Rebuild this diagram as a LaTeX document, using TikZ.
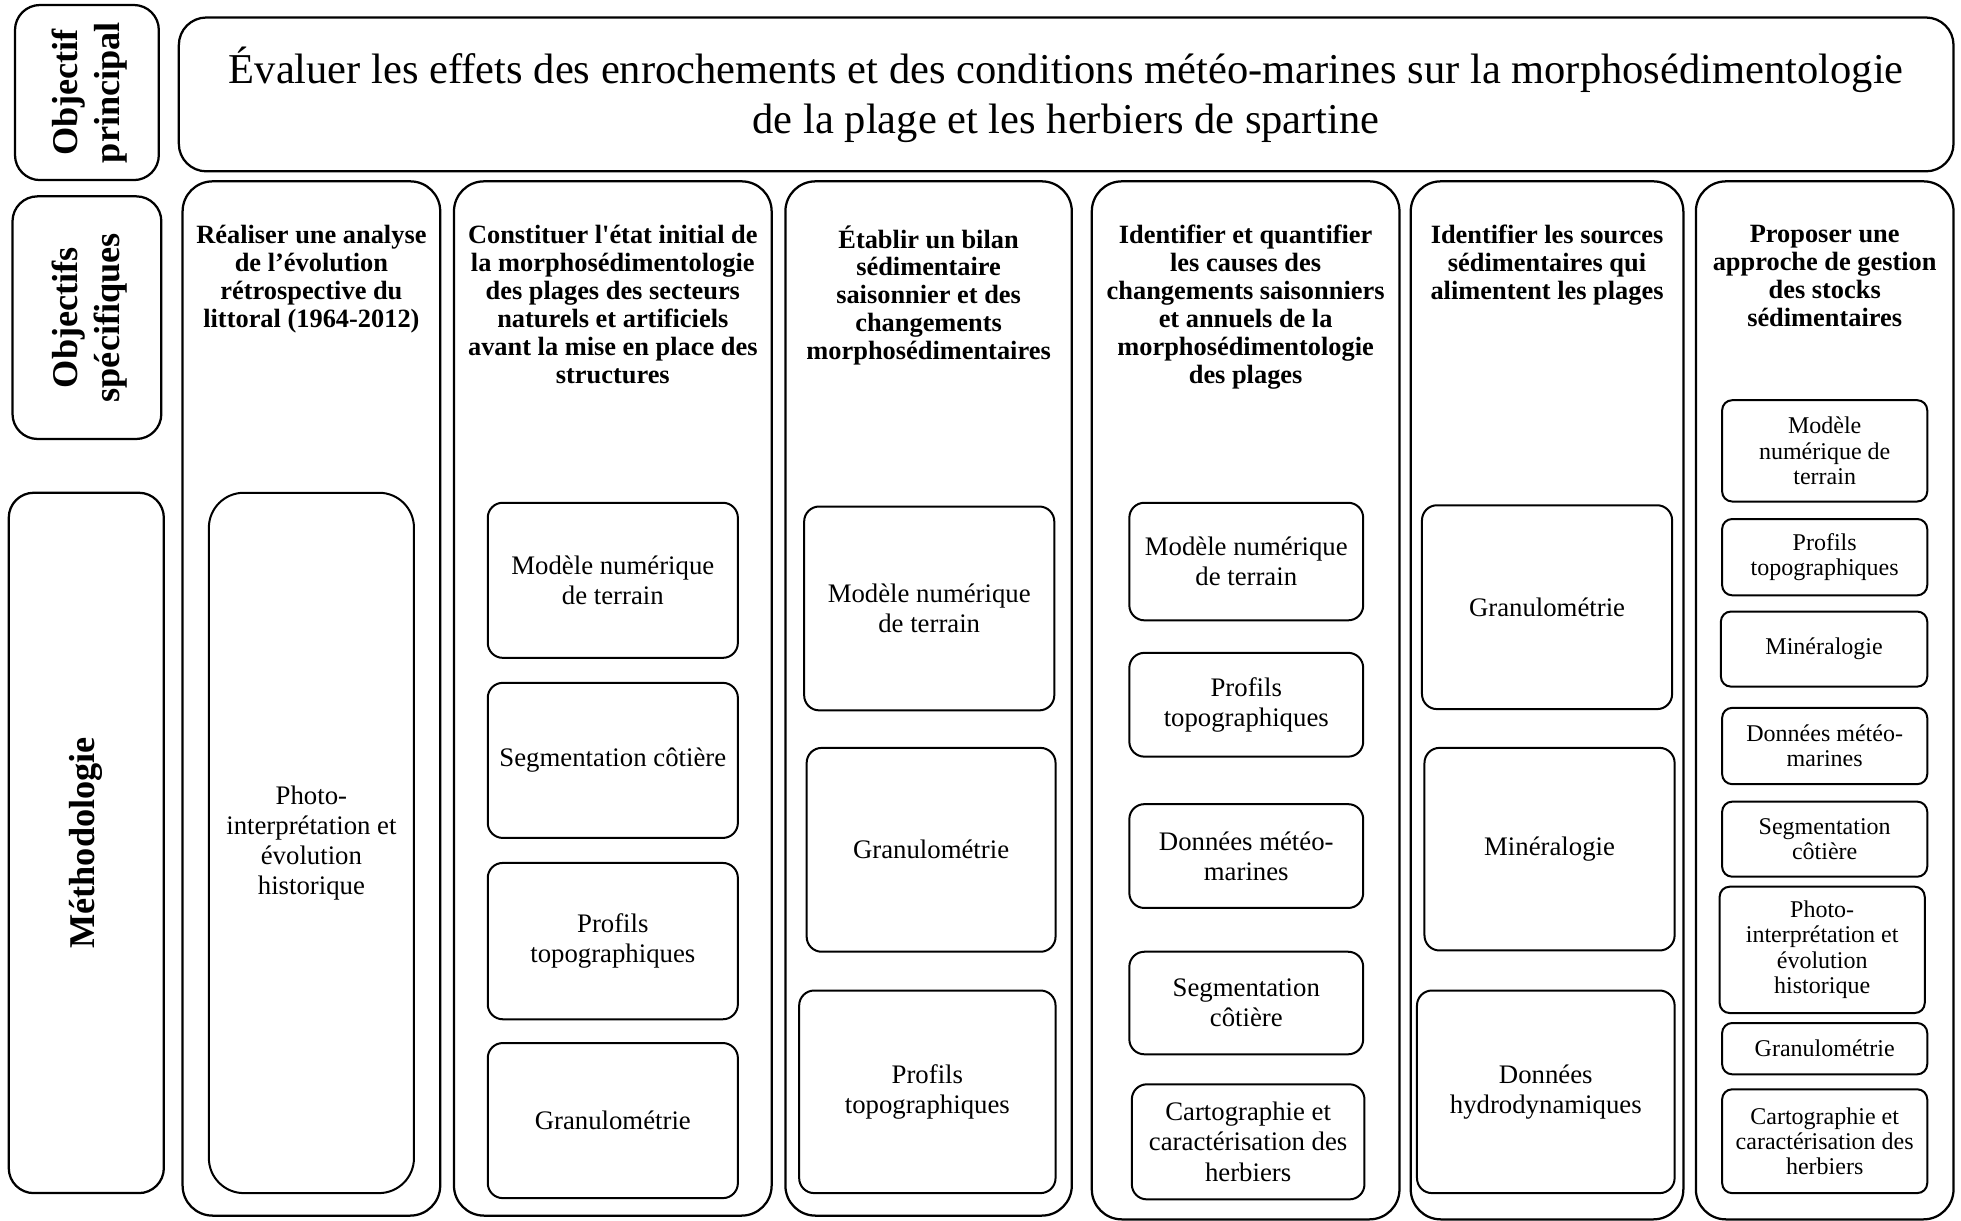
\documentclass[tikz,border=0pt]{standalone}
\usepackage{fontspec}
\setmainfont{Liberation Serif}[Ligatures=TeXOff]
\newcommand{\titfont}{\fontsize{34}{40}\selectfont}
\newcommand{\hdfont}{\fontsize{21.1}{22.3}\selectfont\bfseries}
\newcommand{\infont}{\fontsize{21.4}{24}\selectfont}
\newcommand{\smfont}{\fontsize{19.2}{20.3}\selectfont}
\newcommand{\labfont}{\fontsize{29}{34}\selectfont\bfseries}
\newcommand{\bx}[7]{\node[#6, minimum width={#4-#2}, minimum height={#5-#3}] (#1) at ({(#2+#4)/2},{(#3+#5)/2}) {#7};}
\tikzset{
  frame/.style={draw, line width=1.8pt, rounded corners=24pt, inner sep=0pt},
  labbox/.style={draw, line width=1.8pt, rounded corners=20pt, inner sep=0pt},
  labtxt/.style={rotate=90, font=\labfont, align=center, inner sep=0pt},
  hdr/.style={font=\hdfont, align=center, inner sep=0pt, anchor=north},
  inbox/.style={draw, line width=1.6pt, rounded corners=12pt, inner sep=0pt, align=center, font=\infont},
  smbox/.style={inbox, rounded corners=8pt, font=\smfont},
}
\begin{document}
\begin{tikzpicture}[x=1pt,y=-1pt]
\useasboundingbox (0,0) rectangle (1568,976);
% left labels
\bx{lp}{12}{4}{127}{144}{labbox}{}
\node[labtxt] (lpt) at ([xshift=2pt]lp.center) {Objectif\\principal};
\bx{ls}{10}{157}{129}{351}{labbox}{}
\node[labtxt] (lst) at ([xshift=2pt]ls.center) {Objectifs\\spécifiques};
\bx{lm}{7}{394}{131}{954}{labbox}{}
\node[labtxt] (lmt) at (lm.center) {Méthodologie};
% main objective
\bx{main}{143}{14}{1562}{137}{frame, rounded corners=22pt, font=\titfont, align=center}{Évaluer les effets des enrochements et des conditions météo-marines sur la morphosédimentologie\\de la plage et les herbiers de spartine}
% columns
\bx{c1}{146}{145}{352}{972}{frame}{}
\bx{c2}{363}{145}{617}{972}{frame}{}
\bx{c3}{628}{145}{857}{972}{frame}{}
\bx{c4}{873}{145}{1119}{975}{frame}{}
\bx{c5}{1128}{145}{1346}{975}{frame}{}
\bx{c6}{1356}{145}{1562}{975}{frame}{}
% headers
\node[hdr] (h1) at (249,180) {Réaliser une analyse\\de l’évolution\\rétrospective du\\littoral (1964-2012)};
\node[hdr] (h2) at (490,180) {Constituer l'état initial de\\la morphosédimentologie\\des plages des secteurs\\naturels et artificiels\\avant la mise en place des\\structures};
\node[hdr] (h3) at (742.5,180) {Établir un bilan\\sédimentaire\\saisonnier et des\\changements\\morphosédimentaires};
\node[hdr] (h4) at (996,180) {Identifier et quantifier\\les causes des\\changements saisonniers\\et annuels de la\\morphosédimentologie\\des plages};
\node[hdr] (h5) at (1237,180) {Identifier les sources\\sédimentaires qui\\alimentent les plages};
\node[hdr] (h6) at (1459,180) {Proposer une\\approche de gestion\\des stocks\\sédimentaires};
% column 1
\bx{a1}{167}{394}{331}{954}{inbox, rounded corners=28pt}{Photo-\\interprétation et\\évolution\\historique}
% column 2
\bx{b1}{390}{402}{590}{526}{inbox}{Modèle numérique\\de terrain}
\bx{b2}{390}{546}{590}{670}{inbox}{Segmentation côtière}
\bx{b3}{390}{690}{590}{815}{inbox}{Profils\\topographiques}
\bx{b4}{390}{834}{590}{958}{inbox}{Granulométrie}
% column 3
\bx{d1}{643}{405}{843}{568}{inbox}{Modèle numérique\\de terrain}
\bx{d2}{645}{598}{844}{761}{inbox}{Granulométrie}
\bx{d3}{639}{792}{844}{954}{inbox}{Profils\\topographiques}
% column 4
\bx{e1}{903}{402}{1090}{496}{inbox}{Modèle numérique\\de terrain}
\bx{e2}{903}{522}{1090}{605}{inbox}{Profils\\topographiques}
\bx{e3}{903}{643}{1090}{726}{inbox}{Données météo-\\marines}
\bx{e4}{903}{761}{1090}{843}{inbox}{Segmentation\\côtière}
\bx{e5}{905}{867}{1091}{959}{inbox}{Cartographie et\\caractérisation des\\herbiers}
% column 5
\bx{f1}{1137}{404}{1337}{567}{inbox}{Granulométrie}
\bx{f2}{1139}{598}{1339}{760}{inbox}{Minéralogie}
\bx{f3}{1133}{792}{1339}{954}{inbox}{Données\\hydrodynamiques}
% column 6
\bx{g1}{1377}{320}{1541}{401}{smbox}{Modèle\\numérique de\\terrain}
\bx{g2}{1377}{415}{1541}{476}{smbox}{Profils\\topographiques}
\bx{g3}{1376}{489}{1541}{549}{smbox}{Minéralogie}
\bx{g4}{1377}{566}{1541}{627}{smbox}{Données météo-\\marines}
\bx{g5}{1377}{641}{1541}{701}{smbox}{Segmentation\\côtière}
\bx{g6}{1375}{709}{1539}{810}{smbox}{Photo-\\interprétation et\\évolution\\historique}
\bx{g7}{1377}{818}{1541}{859}{smbox}{Granulométrie}
\bx{g8}{1377}{871}{1541}{954}{smbox}{Cartographie et\\caractérisation des\\herbiers}
\end{tikzpicture}
\end{document}
